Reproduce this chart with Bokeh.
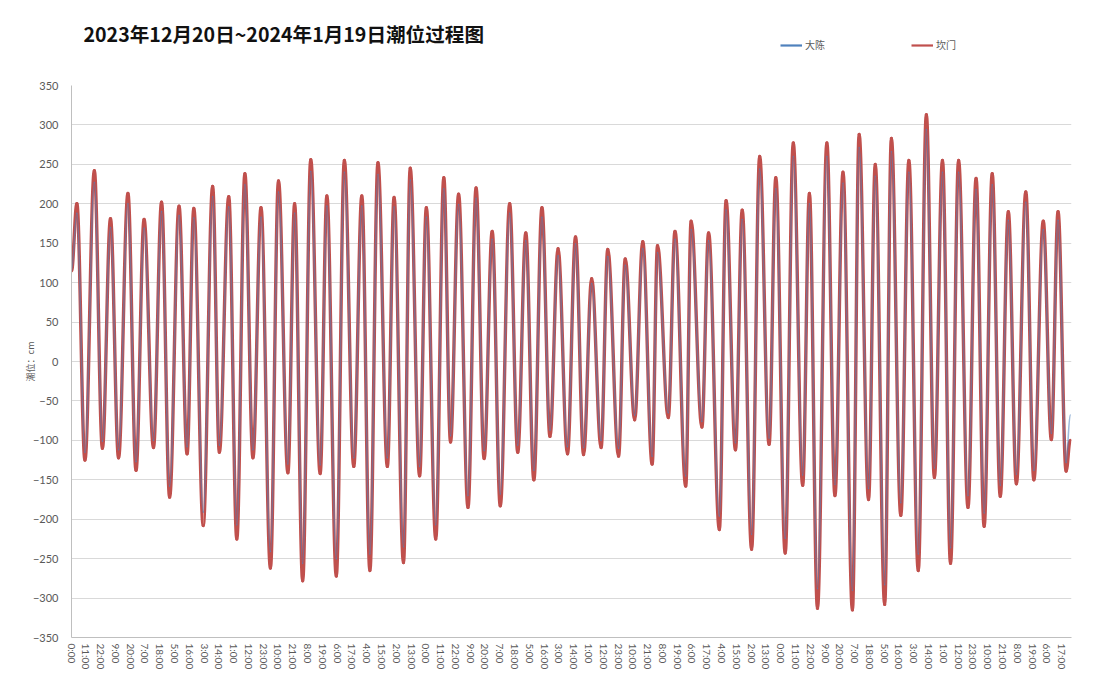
import math
from bokeh.plotting import figure
from bokeh.layouts import column
from bokeh.models import Range1d, FixedTicker, Legend, LegendItem, ColumnDataSource, Label
from bokeh.embed import file_html
from bokeh.resources import INLINE

title_text = "2023年12月20日~2024年1月19日潮位过程图"
series_names = ["大陈", "坎门"]
y_axis_title = "潮位：cm"

# hours counted from 2023-12-20 0:00 (hourly categories 0..743)
start_hour = 0
end_hour = 743
high_hours = [4, 17, 29, 42, 54, 67, 80, 91, 105, 117,
              129, 141, 154, 166, 178, 190, 203, 216, 228, 240,
              252, 264, 277, 288, 301, 313, 326, 338, 350, 362,
              375, 387, 399, 412, 425, 436, 449, 461, 474, 487,
              499, 512, 524, 537, 549, 562, 574, 586, 598, 610,
              623, 636, 648, 660, 673, 685, 697, 710, 723, 734]
low_hours = [10, 23, 35, 48, 61, 73, 86, 98, 110, 123,
             135, 148, 161, 172, 185, 197, 210, 222, 235, 247,
             259, 271, 282, 295, 307, 319, 332, 344, 356, 369,
             381, 394, 407, 419, 432, 444, 457, 469, 482, 494,
             506, 519, 531, 544, 555, 568, 581, 593, 605, 617,
             630, 642, 654, 667, 679, 691, 703, 716, 729, 740]

kanmen_start, kanmen_end = 115, -100
kanmen_high = [200, 242, 181, 213, 180, 202, 197, 194, 222, 209,
               238, 195, 229, 200, 256, 210, 255, 210, 252, 208,
               245, 195, 233, 212, 220, 165, 200, 163, 195, 143,
               158, 105, 142, 130, 152, 147, 165, 178, 163, 204,
               192, 260, 233, 277, 213, 277, 240, 288, 250, 283,
               255, 313, 255, 255, 232, 238, 190, 215, 178, 190]
kanmen_low = [-125, -110, -122, -138, -109, -172, -117, -208, -115, -225,
              -122, -262, -141, -278, -142, -272, -133, -265, -133, -255,
              -145, -225, -102, -185, -123, -183, -115, -150, -95, -117,
              -118, -109, -120, -74, -130, -71, -158, -83, -213, -112,
              -238, -105, -243, -157, -313, -170, -315, -175, -308, -195,
              -265, -147, -256, -185, -209, -171, -155, -150, -99, -139]

dachen_start, dachen_end = 115, -68
dachen_high = [188, 227, 170, 200, 169, 190, 185, 182, 209, 196,
               224, 183, 215, 188, 241, 197, 240, 197, 237, 196,
               230, 183, 219, 199, 207, 155, 188, 153, 183, 134,
               149, 99, 133, 122, 143, 138, 155, 167, 153, 192,
               180, 244, 219, 260, 200, 260, 226, 271, 235, 266,
               240, 294, 240, 240, 218, 224, 179, 202, 167, 179]
dachen_low = [-115, -101, -112, -127, -100, -158, -108, -191, -106, -207,
              -112, -241, -130, -256, -131, -250, -122, -244, -122, -235,
              -133, -207, -94, -170, -113, -168, -106, -138, -87, -108,
              -109, -100, -110, -68, -120, -65, -145, -76, -196, -103,
              -219, -97, -224, -144, -288, -156, -290, -161, -283, -179,
              -244, -135, -236, -170, -192, -157, -143, -138, -91, -128]

tick_hours = list(range(0, 738, 11))
tick_labels = ["0:00", "11:00", "22:00", "9:00", "20:00", "7:00", "18:00", "5:00",
               "16:00", "3:00", "14:00", "1:00", "12:00", "23:00", "10:00", "21:00",
               "8:00", "19:00", "6:00", "17:00", "4:00", "15:00", "2:00", "13:00",
               "0:00", "11:00", "22:00", "9:00", "20:00", "7:00", "18:00", "5:00",
               "16:00", "3:00", "14:00", "1:00", "12:00", "23:00", "10:00", "21:00",
               "8:00", "19:00", "6:00", "17:00", "4:00", "15:00", "2:00", "13:00",
               "0:00", "11:00", "22:00", "9:00", "20:00", "7:00", "18:00", "5:00",
               "16:00", "3:00", "14:00", "1:00", "12:00", "23:00", "10:00", "21:00",
               "8:00", "19:00", "6:00", "17:00"]
y_ticks = list(range(-350, 351, 50))


def series(start, highs, lows, end):
    xs, ys = [start_hour], [start]
    for hh, hv, lh, lv in zip(high_hours, highs, low_hours, lows):
        xs += [hh, lh]
        ys += [hv, lv]
    xs.append(end_hour)
    ys.append(end)
    return xs, ys


def curve_source(xs, ys, k=0.36):
    # smooth curve between successive tide turning points (horizontal tangents)
    x0, y0, x1, y1 = xs[:-1], ys[:-1], xs[1:], ys[1:]
    cx0 = [a + k * (b - a) for a, b in zip(x0, x1)]
    cx1 = [b - k * (b - a) for a, b in zip(x0, x1)]
    return ColumnDataSource(dict(x0=x0, y0=y0, x1=x1, y1=y1,
                                 cx0=cx0, cy0=y0, cx1=cx1, cy1=y1))


kx, ky = series(kanmen_start, kanmen_high, kanmen_low, kanmen_end)
dx, dy = series(dachen_start, dachen_high, dachen_low, dachen_end)

CJK = "Noto Sans CJK SC"
GRAY = "#595959"
RED = "#c0504d"
BLUE = "#4f81bd"
FRAME_W = 1000
LEFT, RIGHT = 71, 23

# ---------- header strip: title + legend (frame-pixel coordinates) ----------
HEAD_H = 78
head = figure(frame_width=FRAME_W, frame_height=HEAD_H, output_backend="svg",
              toolbar_location=None, x_axis_type=None, y_axis_type=None,
              x_range=Range1d(0, FRAME_W), y_range=Range1d(0, HEAD_H),
              min_border_left=LEFT, min_border_right=RIGHT,
              min_border_top=0, min_border_bottom=0)
head.grid.visible = False
head.outline_line_color = None
head.add_layout(Label(x=12, y=HEAD_H - 33, text=title_text, text_font=CJK,
                      text_font_style="bold", text_font_size="19.6px", text_color="#111111",
                      text_align="left", text_baseline="middle"))
nan = float("nan")
leg_d = head.line(x=[nan], y=[nan], line_color=BLUE, line_width=2.2)
leg_k = head.line(x=[nan], y=[nan], line_color=RED, line_width=2.2)
legend = Legend(items=[LegendItem(label=series_names[0], renderers=[leg_d]),
                       LegendItem(label=series_names[1], renderers=[leg_k])],
                orientation="horizontal", location=(709, HEAD_H - 46 - 6),
                padding=0, margin=0, spacing=86, glyph_width=22, glyph_height=12,
                label_standoff=3, label_height=12,
                border_line_color=None, background_fill_alpha=0,
                label_text_font=CJK, label_text_font_size="10px", label_text_color=GRAY)
head.add_layout(legend, "center")

# ---------- main chart ----------
p = figure(frame_width=FRAME_W, frame_height=552, output_backend="svg", toolbar_location=None,
           x_range=Range1d(0, 744), y_range=Range1d(-350, 350),
           min_border_left=LEFT, min_border_right=RIGHT, min_border_top=7, min_border_bottom=0)
p.outline_line_color = None

p.xgrid.grid_line_color = None
p.ygrid.grid_line_color = "#d9d9d9"
p.ygrid.ticker = FixedTicker(ticks=y_ticks)

for ax in (p.xaxis, p.yaxis):
    ax.axis_line_color = "#bfbfbf"
    ax.major_tick_line_color = None
    ax.minor_tick_line_color = None
    ax.major_tick_out = 0
    ax.major_tick_in = 0
    ax.minor_tick_out = 0
    ax.minor_tick_in = 0
    ax.major_label_text_font = "Lato"
    ax.major_label_text_color = GRAY

p.yaxis.ticker = FixedTicker(ticks=y_ticks)
p.yaxis.major_label_text_font_size = "11px"
p.yaxis.major_label_standoff = 13
p.yaxis.axis_label = y_axis_title
p.yaxis.axis_label_text_font = CJK
p.yaxis.axis_label_text_font_size = "9px"
p.yaxis.axis_label_text_font_style = "normal"
p.yaxis.axis_label_text_color = GRAY
p.yaxis.axis_label_standoff = -7

p.xaxis.ticker = FixedTicker(ticks=tick_hours)
p.xaxis.major_label_overrides = {h: lab for h, lab in zip(tick_hours, tick_labels)}
p.xaxis.major_label_orientation = -math.pi / 2
p.xaxis.major_label_text_font_size = "10px"
p.xaxis.major_label_standoff = 6

p.bezier(x0="x0", y0="y0", x1="x1", y1="y1", cx0="cx0", cy0="cy0", cx1="cx1", cy1="cy1",
         source=curve_source(kx, ky), line_color=RED, line_width=3.4, line_cap="round")
p.bezier(x0="x0", y0="y0", x1="x1", y1="y1", cx0="cx0", cy0="cy0", cx1="cx1", cy1="cy1",
         source=curve_source(dx, dy), line_color=BLUE, line_width=1.6, line_alpha=0.55,
         line_cap="round")

layout = column(head, p, spacing=0)
open("out.html", "w").write(file_html(layout, INLINE))
